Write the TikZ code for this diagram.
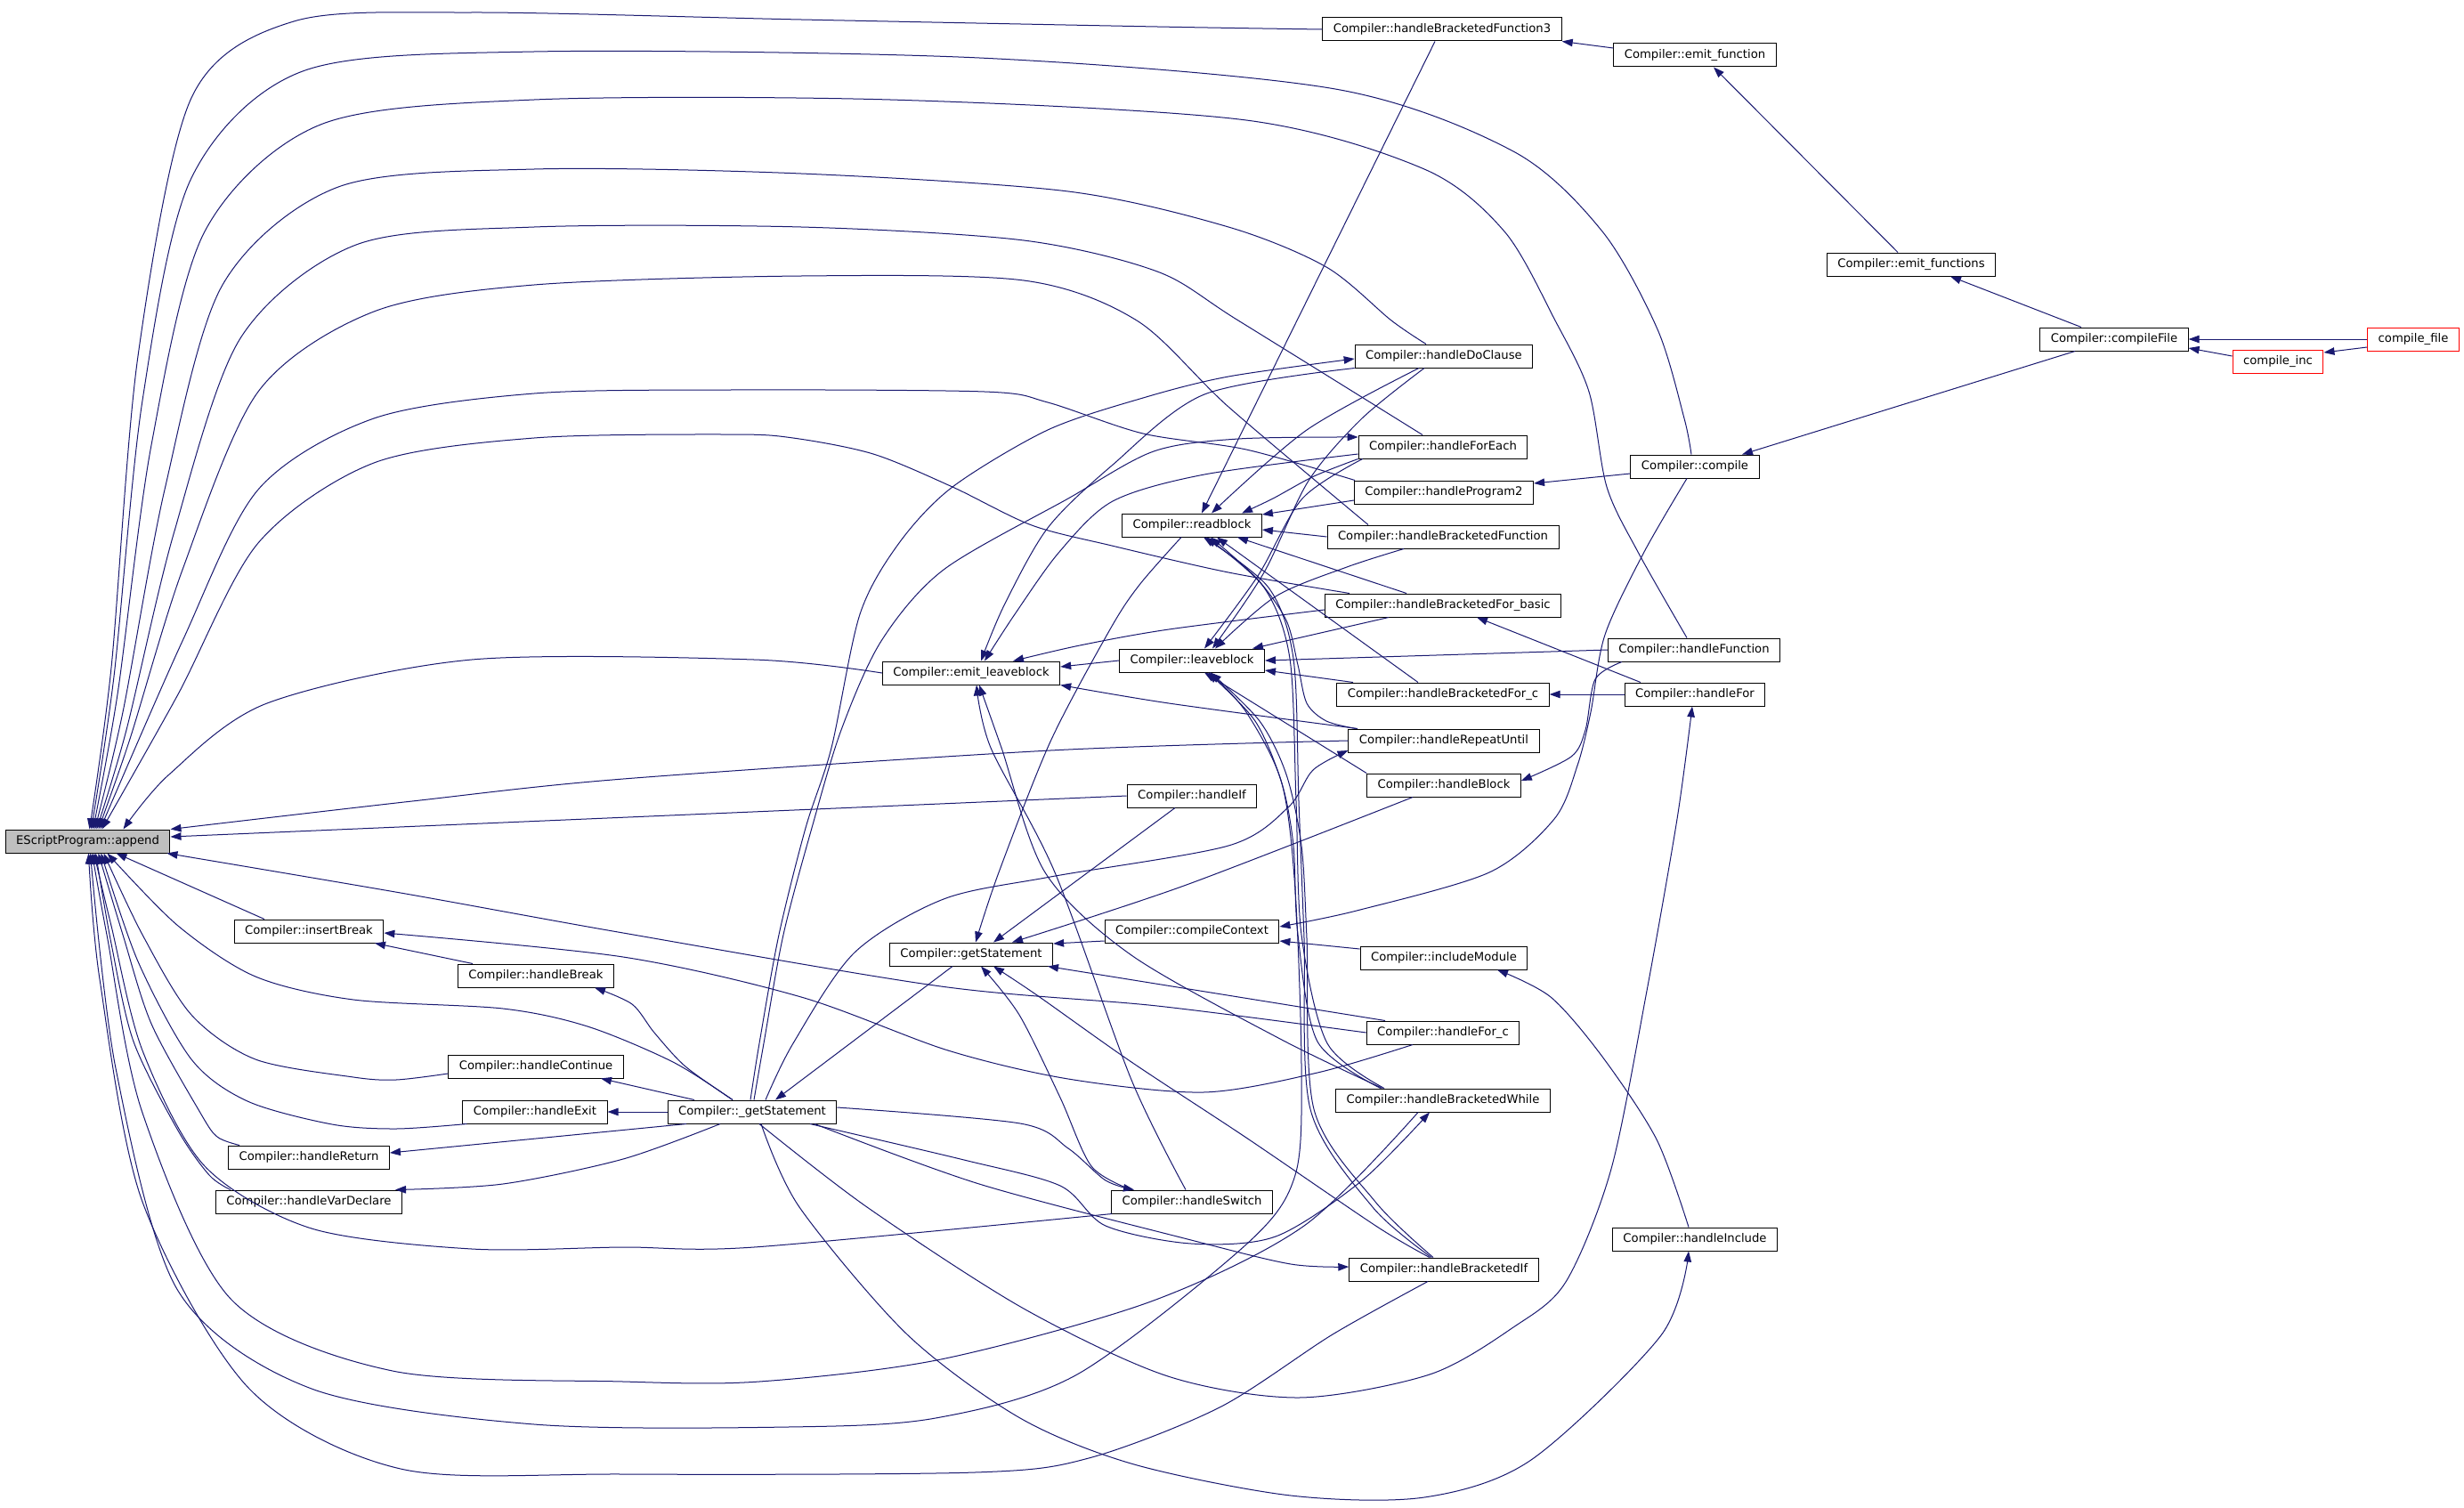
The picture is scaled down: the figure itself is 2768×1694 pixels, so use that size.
\documentclass[tikz,border=0pt]{standalone}
\usepackage{fontspec}
\setmainfont{DejaVu Sans}
\usetikzlibrary{arrows.meta}
\definecolor{edgeblue}{HTML}{191970}
\tikzset{
  fn/.style={draw=black, line width=1pt, fill=white, minimum height=26pt, inner xsep=12pt, inner ysep=0pt, font=\fontsize{13.2pt}{15pt}\selectfont},
  ext/.style={fn, draw=red},
  cur/.style={fn, fill=gray!50},
  calls/.style={draw=edgeblue, line width=1pt, -{Triangle[length=12pt,width=8.5pt]}},
  sm/.style={smooth, tension=.5}
}
\begin{document}
\begin{tikzpicture}[x=1pt,y=-1pt]
\fill[white] (0,0) rectangle (2768,1694);
\useasboundingbox (0,0) rectangle (2768,1694);

\node[cur] (app) at (98.5,945) {EScriptProgram::append};
\node[fn] (hbfiii) at (1620,33) {Compiler::handleBracketedFunction3};
\node[fn] (emitfn) at (1904,62) {Compiler::emit\_function};
\node[fn] (emitfns) at (2147,297) {Compiler::emit\_functions};
\node[fn] (compfile) at (2375,381) {Compiler::compileFile};
\node[ext] (cfile) at (2711,381) {compile\_file};
\node[ext] (cinc) at (2559,406) {compile\_inc};
\node[fn] (doclause) at (1622,400) {Compiler::handleDoClause};
\node[fn] (foreach) at (1621,502) {Compiler::handleForEach};
\node[fn] (compile) at (1904,524) {Compiler::compile};
\node[fn] (progii) at (1622,553) {Compiler::handleProgram2};
\node[fn] (readblock) at (1339,590) {Compiler::readblock};
\node[fn] (hbfunc) at (1621,603) {Compiler::handleBracketedFunction};
\node[fn] (hbfbasic) at (1621,680) {Compiler::handleBracketedFor\_basic};
\node[fn] (hfunc) at (1903,730) {Compiler::handleFunction};
\node[fn] (leaveblock) at (1339,742) {Compiler::leaveblock};
\node[fn] (emitleave) at (1091,756) {Compiler::emit\_leaveblock};
\node[fn] (hbforc) at (1621,780) {Compiler::handleBracketedFor\_c};
\node[fn] (hfor) at (1904,780) {Compiler::handleFor};
\node[fn] (repeat) at (1622,832) {Compiler::handleRepeatUntil};
\node[fn] (hblock) at (1622,882) {Compiler::handleBlock};
\node[fn] (handleif) at (1339,894) {Compiler::handleIf};
\node[fn] (insbreak) at (347,1046) {Compiler::insertBreak};
\node[fn] (compctx) at (1339,1046) {Compiler::compileContext};
\node[fn] (getstmt) at (1091,1072) {Compiler::getStatement};
\node[fn] (inclmod) at (1622,1076) {Compiler::includeModule};
\node[fn] (hbreak) at (602,1096) {Compiler::handleBreak};
\node[fn] (forc) at (1621,1160) {Compiler::handleFor\_c};
\node[fn] (hcont) at (602,1198) {Compiler::handleContinue};
\node[fn] (bwhile) at (1621,1236) {Compiler::handleBracketedWhile};
\node[fn] (hexit) at (601,1249) {Compiler::handleExit};
\node[fn] (ugetstmt) at (845,1249) {Compiler::\_getStatement};
\node[fn] (hreturn) at (347,1300) {Compiler::handleReturn};
\node[fn] (hswitch) at (1339,1350) {Compiler::handleSwitch};
\node[fn] (hvardecl) at (347,1350) {Compiler::handleVarDeclare};
\node[fn] (hincl) at (1904,1392) {Compiler::handleInclude};
\node[fn] (bif) at (1622,1426) {Compiler::handleBracketedIf};

\draw[calls] ([yshift=8pt]emitfn.west) -- (hbfiii.south east);
\draw[calls] ([xshift=-15pt]emitfns.north) -- ([xshift=21pt]emitfn.south);
\draw[calls] ([xshift=-37pt]compfile.north) -- ([xshift=44pt]emitfns.south);
\draw[calls] ([xshift=-44pt]compfile.south) -- ([xshift=53pt]compile.north);
\draw[calls] (cfile.west) -- (compfile.east);
\draw[calls] ([yshift=6pt]cinc.west) -- ([yshift=-10pt]compfile.east);
\draw[calls] ([yshift=-9pt]cfile.west) -- ([yshift=10pt]cinc.east);
\draw[calls] ([yshift=-8pt]compile.west) -- ([yshift=10pt]progii.east);
\draw[calls] plot[sm] coordinates {([xshift=-9pt]compile.south) (1847,620) (1803,713) (1787,800) (1772,860) (1746,920) (1673,980) (1524,1023) ([yshift=5pt]compctx.east)};
\draw[calls] plot[sm] coordinates {([xshift=-81pt]hfunc.south) (1792,763) (1781,820) (1765,850) ([yshift=5pt]hblock.east)};
\draw[calls] ([xshift=-61pt]hfor.north) -- ([xshift=38pt]hbfbasic.south);
\draw[calls] (hfor.west) -- (hbforc.east);
\draw[calls] plot[sm] coordinates {([xshift=-7pt]hincl.north) (1861,1280) (1800,1187) (1742,1120) ([xshift=60pt]inclmod.south)};
\draw[calls] ([yshift=10pt]inclmod.west) -- ([yshift=-11pt]compctx.east);
\draw[calls] ([yshift=-11pt]compctx.west) -- ([yshift=12pt]getstmt.east);
\draw[calls] ([xshift=-65pt]forc.north) -- ([xshift=86pt]getstmt.south);
\draw[calls] plot[sm] coordinates {([xshift=-68pt]hswitch.north) (1226,1310) (1191,1233) (1145,1140) ([xshift=11pt]getstmt.south)};
\draw[calls] plot[sm] coordinates {([xshift=-16pt]bif.north) (1547,1378) (1400,1278) (1271,1193) (1165,1118) ([xshift=25pt]getstmt.south)};
\draw[calls] plot[sm] coordinates {([xshift=-12pt]readblock.south) (1280,657) (1247,707) (1180,833) (1122,980) ([xshift=5pt]getstmt.north)};
\draw[calls] ([xshift=-19pt]handleif.south) -- ([xshift=25pt]getstmt.north);
\draw[calls] plot[sm] coordinates {([xshift=-35pt]hblock.south) (1330,995) ([xshift=46pt]getstmt.north)};
\draw[calls] ([xshift=-21pt]getstmt.south) -- ([xshift=26pt]ugetstmt.north);
\draw[calls] plot[sm] coordinates {([xshift=-22pt]ugetstmt.north) (770,1198) (735,1160) (710,1128) ([xshift=66pt]hbreak.south)};
\draw[calls] ([xshift=-65pt]ugetstmt.north) -- ([xshift=73pt]hcont.south);
\draw[calls] (ugetstmt.west) -- (hexit.east);
\draw[calls] ([xshift=-74pt]ugetstmt.south) -- ([yshift=5pt]hreturn.east);
\draw[calls] plot[sm] coordinates {([xshift=-36pt]ugetstmt.south) (700,1302) (565,1330) ([xshift=-8pt]hvardecl.north east)};
\draw[calls] ([xshift=-71pt]hbreak.north) -- ([xshift=74pt]insbreak.south);
\draw[calls] plot[sm] coordinates {([xshift=-34pt]forc.south) (1480,1205) (1352,1227) (1200,1212) (1065,1180) (900,1120) (700,1075) ([yshift=-2pt]insbreak.east)};
\draw[calls] (leaveblock.west) -- ([yshift=7pt]emitleave.east);
\draw[calls] plot[sm] coordinates {([yshift=-5pt]hbfbasic.west) (1313,707) (1213,725) ([xshift=47pt]emitleave.north)};
\draw[calls] plot[sm] coordinates {(doclause.south west) (1353,443) (1249,523) (1177,593) (1128,680) ([xshift=11pt]emitleave.north)};
\draw[calls] plot[sm] coordinates {([yshift=-8pt]foreach.west) (1353,533) (1250,563) (1190,620) (1140,690) ([xshift=15pt]emitleave.north)};
\draw[calls] plot[sm] coordinates {([xshift=-97pt]repeat.north) (1313,790) (emitleave.south east)};
\draw[calls] plot[sm] coordinates {([xshift=-68pt]bwhile.north) (1438,1167) (1271,1073) (1174,980) (1125,840) ([xshift=9pt]emitleave.south)};
\draw[calls] plot[sm] coordinates {([xshift=-7pt]hswitch.north) (1271,1213) (1185,980) (1113,840) ([xshift=6pt]emitleave.south)};
\draw[calls] ([xshift=-8pt]hbfiii.south) -- ([xshift=11pt]readblock.north);
\draw[calls] plot[sm] coordinates {([xshift=-28pt]doclause.south) (1468,483) ([xshift=22pt]readblock.north)};
\draw[calls] plot[sm] coordinates {(foreach.south west) (1476,535) (1430,560) ([xshift=56pt]readblock.north)};
\draw[calls] ([yshift=-9pt]progii.west) -- ([yshift=12pt]readblock.east);
\draw[calls] (hbfunc.west) -- ([yshift=-5pt]readblock.east);
\draw[calls] ([xshift=-41pt]hbfbasic.north) -- ([xshift=51pt]readblock.south);
\draw[calls] ([xshift=-28pt]hbforc.north) -- ([xshift=28pt]readblock.south);
\draw[calls] plot[sm] coordinates {([xshift=-99pt]repeat.north) (1490,810) (1468,790) (1458,747) (1445,697) (1412,650) ([xshift=21pt]readblock.south)};
\draw[calls] plot[sm] coordinates {([xshift=-66pt]bwhile.north) (1491,1172) (1462,1050) (1456,900) (1449,740) (1420,660) ([xshift=16pt]readblock.south)};
\draw[calls] plot[sm] coordinates {([xshift=-14pt]bif.north) (1542,1356) (1472,1246) (1465,1054) (1459,900) (1453,740) (1425,660) ([xshift=13pt]readblock.south)};
\draw[calls] plot[sm] coordinates {([xshift=-22pt]doclause.south) (1530,470) (1470,540) (1420,643) ([xshift=23pt]leaveblock.north)};
\draw[calls] plot[sm] coordinates {([xshift=5pt]foreach.south west) (1463,560) (1413,647) ([xshift=14pt]leaveblock.north)};
\draw[calls] ([xshift=-61pt]hbfbasic.south) -- ([xshift=68pt]leaveblock.north);
\draw[calls] plot[sm] coordinates {([xshift=-44pt]hbfunc.south) (1513,637) (1433,670) ([xshift=26pt]leaveblock.north)};
\draw[calls] (hfunc.west) -- (leaveblock.east);
\draw[calls] ([xshift=-101pt]hbforc.north) -- ([yshift=-11pt]leaveblock.east);
\draw[calls] (hblock.north west) -- ([xshift=14pt]leaveblock.south);
\draw[calls] plot[sm] coordinates {([xshift=-70pt]bwhile.north) (1480,1170) (1458,1050) (1453,950) (1440,880) (1410,810) ([xshift=18pt]leaveblock.south)};
\draw[calls] plot[sm] coordinates {([xshift=-12pt]bif.north) (1545,1350) (1476,1246) (1468,1054) (1462,950) (1445,870) (1415,810) ([xshift=21pt]leaveblock.south)};
\draw[calls] plot[sm] coordinates {([xshift=-2pt]ugetstmt.north) (853,1172) (875,1050) (905,930) (934,840) (966,690) (1010,610) (1070,547) (1177,483) (1284,447) (1380,423) ([yshift=-3pt]doclause.west)};
\draw[calls] plot[sm] coordinates {([xshift=2pt]ugetstmt.north) (858,1172) (880,1050) (912,930) (945,820) (990,720) (1060,640) (1200,560) (1296,507) (1391,493) ([yshift=11pt]foreach.west)};
\draw[calls] plot[sm] coordinates {([xshift=15pt]ugetstmt.north) (891,1172) (960,1070) (1060,1010) (1180,985) (1380,950) (1447,907) (1475,865) ([yshift=-11pt]repeat.west)};
\draw[calls] plot[sm] coordinates {([yshift=5pt]ugetstmt.east) (1146,1262) (1200,1290) (1242,1326) ([xshift=-65pt]hswitch.north)};
\draw[calls] plot[sm] coordinates {([xshift=65pt]ugetstmt.south) (1083,1303) (1191,1332) (1242,1377) (1338,1397) (1433,1389) (1529,1327) ([xshift=-15pt]bwhile.south)};
\draw[calls] plot[sm] coordinates {([xshift=70pt]ugetstmt.south) (1100,1330) (1338,1393) (1450,1420) ([yshift=3pt]bif.west)};
\draw[calls] plot[sm] coordinates {([xshift=8pt]ugetstmt.south) (974,1356) (1150,1470) (1312,1546) (1459,1570) (1606,1544) (1700,1491) (1759,1440) (1810,1313) (1850,1113) (1884,920) ([xshift=-3pt]hfor.south)};
\draw[calls] plot[sm] coordinates {([xshift=10pt]ugetstmt.south) (898,1356) (1019,1499) (1146,1593) (1274,1645) (1450,1680) (1600,1682) (1720,1640) (1866,1500) ([xshift=-7pt]hincl.south)};

\draw[calls] plot[sm] coordinates {(hbfiii.west) (1300,30) (900,22) (530,14) (330,24) (215,110) (155,400) (125,750) ([xshift=2pt]app.north)};
\draw[calls] plot[sm] coordinates {([xshift=-4pt]compile.north) (1892,470) (1862,370) (1800,260) (1700,170) (1500,100) (1100,65) (600,58) (340,80) (215,200) (160,450) (128,760) ([xshift=4pt]app.north)};
\draw[calls] plot[sm] coordinates {([xshift=-8pt]hfunc.north) (1840,620) (1805,547) (1785,440) (1747,360) (1690,260) (1600,190) (1400,135) (1000,112) (600,112) (360,140) (230,260) (170,500) (132,780) ([xshift=6pt]app.north)};
\draw[calls] plot[sm] coordinates {([xshift=-20pt]doclause.north) (1563,360) (1490,300) (1380,255) (1200,215) (900,195) (600,190) (380,210) (250,320) (185,550) (138,800) ([xshift=8pt]app.north)};
\draw[calls] plot[sm] coordinates {([xshift=-23pt]foreach.north) (1391,360) (1300,305) (1150,270) (900,255) (600,255) (400,275) (270,380) (195,600) (142,820) ([xshift=10pt]app.north)};
\draw[calls] plot[sm] coordinates {([xshift=-84pt]hbfunc.north) (1380,457) (1277,360) (1150,315) (900,310) (600,320) (420,350) (290,440) (205,640) (146,830) ([xshift=12pt]app.north)};
\draw[calls] plot[sm] coordinates {([xshift=-100pt]progii.north) (1400,505) (1284,487) (1177,452) (1106,440) (820,438) (600,442) (420,470) (290,550) (205,720) ([xshift=14pt]app.north)};
\draw[calls] plot[sm] coordinates {([xshift=-105pt]hbfbasic.north) (1380,643) (1249,613) (1159,590) (1070,547) (981,510) (891,492) (820,488) (600,492) (420,520) (290,610) (200,780) ([xshift=16pt]app.north)};
\draw[calls] plot[sm] coordinates {(emitleave.west) (847,741) (530,741) (300,790) (190,870) ([xshift=40pt]app.north)};
\draw[calls] plot[sm] coordinates {(repeat.west) (1180,843) (700,875) (463,900) (app.north east)};
\draw[calls] (handleif.west) -- ([yshift=5pt]app.east);
\draw[calls] ([xshift=-50pt]insbreak.north) -- ([xshift=32pt]app.south);
\draw[calls] plot[sm] coordinates {(forc.west) (1300,1130) (1057,1108) (700,1048) (450,1003) ([xshift=-4pt]app.south east)};
\draw[calls] plot[sm] coordinates {([xshift=-22pt]ugetstmt.north) (756,1193) (660,1153) (565,1133) (397,1123) (287,1097) (200,1040) ([xshift=22pt]app.south)};
\draw[calls] plot[sm] coordinates {([yshift=-8pt]hcont.west) (445,1213) (397,1210) (287,1190) (215,1140) (160,1050) ([xshift=18pt]app.south)};
\draw[calls] plot[sm] coordinates {([xshift=5pt]hexit.south west) (445,1268) (373,1263) (278,1237) (215,1190) (155,1080) ([xshift=15pt]app.south)};
\draw[calls] plot[sm] coordinates {([xshift=13pt]hreturn.north west) (244,1277) (225,1250) (170,1150) (138,1050) ([xshift=12pt]app.south)};
\draw[calls] plot[sm] coordinates {([xshift=17pt]hvardecl.north west) (235,1320) (200,1270) (150,1170) (125,1060) ([xshift=9pt]app.south)};
\draw[calls] plot[sm] coordinates {([xshift=1pt]hswitch.south west) (847,1401) (700,1401) (530,1403) (350,1380) (230,1310) (160,1180) (125,1040) ([xshift=7pt]app.south)};
\draw[calls] plot[sm] coordinates {([xshift=-28pt]bwhile.south) (1465,1377) (1293,1462) (1057,1527) (853,1552) (700,1552) (441,1540) (260,1460) (160,1250) (120,1050) ([xshift=5pt]app.south)};
\draw[calls] plot[sm] coordinates {([xshift=20pt]leaveblock.south) (1400,800) (1440,880) (1455,1000) (1462,1200) (1455,1320) (1401,1397) (1210,1544) (1051,1593) (885,1603) (600,1600) (350,1560) (200,1450) (130,1200) ([xshift=3pt]app.south)};
\draw[calls] plot[sm] coordinates {([xshift=-18pt]bif.south) (1497,1499) (1370,1581) (1223,1638) (1095,1654) (700,1656) (450,1650) (280,1560) (160,1350) (112,1100) ([xshift=1pt]app.south)};
\end{tikzpicture}
\end{document}
